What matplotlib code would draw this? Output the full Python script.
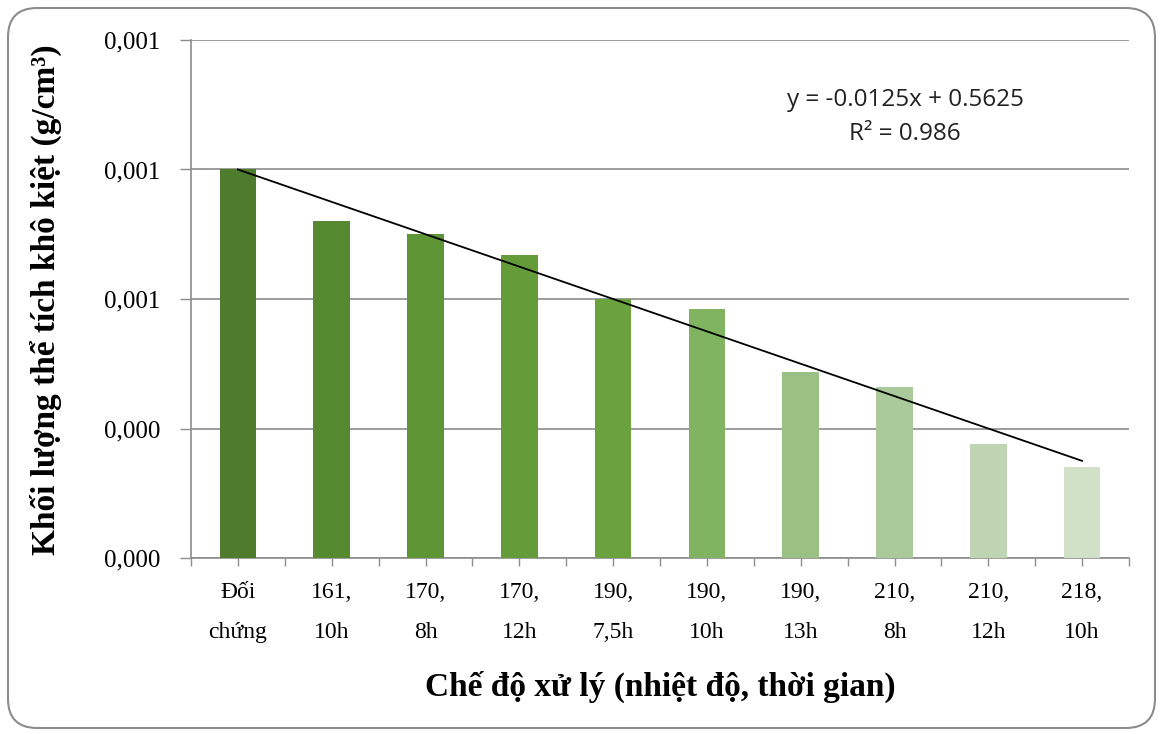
import matplotlib
matplotlib.use("Agg")
import matplotlib.pyplot as plt
import numpy as np
from matplotlib.patches import FancyBboxPatch

categories = ["Đối\nchứng", "161,\n10h", "170,\n8h", "170,\n12h", "190,\n7,5h",
              "190,\n10h", "190,\n13h", "210,\n8h", "210,\n12h", "218,\n10h"]
values = [0.550, 0.530, 0.525, 0.517, 0.500, 0.496, 0.472, 0.466, 0.444, 0.435]
bar_colors = ["#4e7b2c", "#568a31", "#5e9535", "#649c3a", "#6aa23e",
              "#80b460", "#9bc084", "#abca9c", "#bed4b2", "#d1e1c8"]
ytick_values = [0.40, 0.45, 0.50, 0.55, 0.60]
ytick_labels = ["0,000", "0,000", "0,001", "0,001", "0,001"]
trend_slope = -0.0125
trend_intercept = 0.5625
trend_text = "y = -0.0125x + 0.5625\nR² = 0.986"

W, H = 1169, 734
fig = plt.figure(figsize=(W / 100, H / 100), dpi=100)
fig.patch.set_facecolor("white")

# rounded frame
frame = FancyBboxPatch((8 / W, 6 / H), (1155 - 8) / W, (726 - 6) / H,
                       boxstyle="round,pad=0,rounding_size=0.025",
                       transform=fig.transFigure, facecolor="none",
                       edgecolor="#8c8c8c", linewidth=1.5, mutation_aspect=W / H,
                       zorder=-5)
fig.patches.append(frame)

left, right, bottom, top = 191, 1129, 558, 40
ax = fig.add_axes([left / W, (H - bottom) / H, (right - left) / W, (bottom - top) / H])
ax.set_facecolor("none")

x = np.arange(1, len(values) + 1)
ax.bar(x, np.array(values) - ytick_values[0], bottom=ytick_values[0], width=0.39,
       color=bar_colors, zorder=3)

xt = np.array([x[0], x[-1]])
ax.plot(xt, trend_slope * xt + trend_intercept, color="black", lw=1.3, zorder=4)

ax.set_xlim(0.5, len(values) + 0.5)
ax.set_ylim(ytick_values[0], ytick_values[-1])
ax.set_yticks(ytick_values)
ax.set_yticklabels(ytick_labels, family="Liberation Serif", fontsize=18)
ax.yaxis.grid(True, color="#8c8c8c", lw=1.2, zorder=0)
ax.tick_params(axis="y", length=8, width=1, color="#8c8c8c", pad=14)

ax.set_xticks(x)
ax.set_xticklabels(categories, family="Liberation Serif", fontsize=17, linespacing=2.2)
ax.set_xticks(np.arange(0.5, len(values) + 1, 1.0), minor=True)
ax.tick_params(axis="x", which="both", length=6, width=1, color="#8c8c8c", pad=11)

for s in ["top", "right"]:
    ax.spines[s].set_visible(False)
for s in ["left", "bottom"]:
    ax.spines[s].set_color("#8c8c8c")
    ax.spines[s].set_linewidth(1.2)

ax.set_xlabel("Chế độ xử lý (nhiệt độ, thời gian)", family="Liberation Serif",
              fontsize=24, fontweight="bold", labelpad=20)
fig.text(46 / W, (H - 300) / H, "Khối lượng thể tích khô kiệt (g/cm³)",
         family="Liberation Serif", fontsize=24, fontweight="bold",
         rotation=90, ha="center", va="center")

fig.text(905 / W, (H - 117) / H, trend_text, family="Open Sans", fontsize=17.5,
         ha="center", va="center", linespacing=1.55, color="#222222")

fig.savefig("out.png", dpi=100, facecolor="white")
